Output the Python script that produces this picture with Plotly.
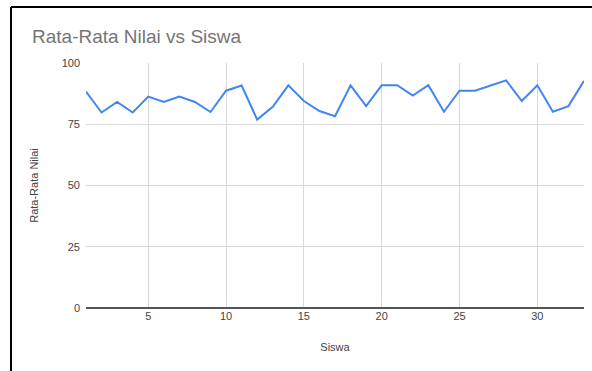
import plotly.graph_objects as go

# Student number and average score
siswa = list(range(1, 34))
rata_rata = [88.3, 79.8, 84.1, 79.8, 86.3, 84.1, 86.3, 84.1, 80.0, 88.7,
             90.8, 76.9, 82.1, 90.9, 84.5, 80.4, 78.3, 90.9, 82.4, 90.9,
             90.9, 86.7, 90.9, 80.1, 88.7, 88.7, 90.8, 92.9, 84.5, 90.9,
             80.1, 82.4, 92.7]

x_ticks = [5, 10, 15, 20, 25, 30]
y_ticks = [0, 25, 50, 75, 100]

W, H = 592, 371
L, R, T, B = 86, 8, 63, 63
pw, ph = W - L - R, H - T - B


def px_to_paper(px, py):
    return (px - L) / pw, (H - B - py) / ph


fig = go.Figure()
fig.add_trace(go.Scatter(
    x=siswa, y=rata_rata, mode="lines",
    line=dict(color="#4285F4", width=2),
    showlegend=False,
))

# black frame on the top and left edges
x0, y0 = px_to_paper(11, 7)
x1, _ = px_to_paper(W + 2, 7)
_, y1 = px_to_paper(11, H + 2)
fig.add_shape(type="line", xref="paper", yref="paper",
              x0=x0, y0=y0, x1=x1, y1=y0, line=dict(color="#000", width=2))
fig.add_shape(type="line", xref="paper", yref="paper",
              x0=x0, y0=y0, x1=x0, y1=y1, line=dict(color="#000", width=2))

FONT = "Liberation Sans, Arial, sans-serif"

fig.update_layout(
    width=W, height=H,
    margin=dict(l=L, r=R, t=T, b=B),
    paper_bgcolor="white", plot_bgcolor="white",
    font=dict(family=FONT, color="#444"),
    title=dict(text="Rata-Rata Nilai vs Siswa", xref="container", yref="container",
               x=32 / W, xanchor="left", y=1 - 36 / H, yanchor="middle",
               font=dict(size=19, color="#757575", family=FONT)),
    xaxis=dict(range=[1, 33], tickvals=x_ticks, showgrid=True, gridcolor="#d9d9d9",
               gridwidth=1, zeroline=False, showline=False, ticks="",
               tickfont=dict(size=11, color="#444"),
               title=dict(text="Siswa", font=dict(size=11, color="#444"), standoff=22)),
    yaxis=dict(range=[0, 100], tickvals=y_ticks, showgrid=True, gridcolor="#d9d9d9",
               gridwidth=1, zeroline=True, zerolinecolor="#555", zerolinewidth=1.5,
               showline=False, ticks="", ticklabelstandoff=5,
               tickfont=dict(size=11, color="#444"),
               title=dict(text="Rata-Rata Nilai", font=dict(size=11, color="#444"), standoff=20)),
)

fig.write_html("out.html")
